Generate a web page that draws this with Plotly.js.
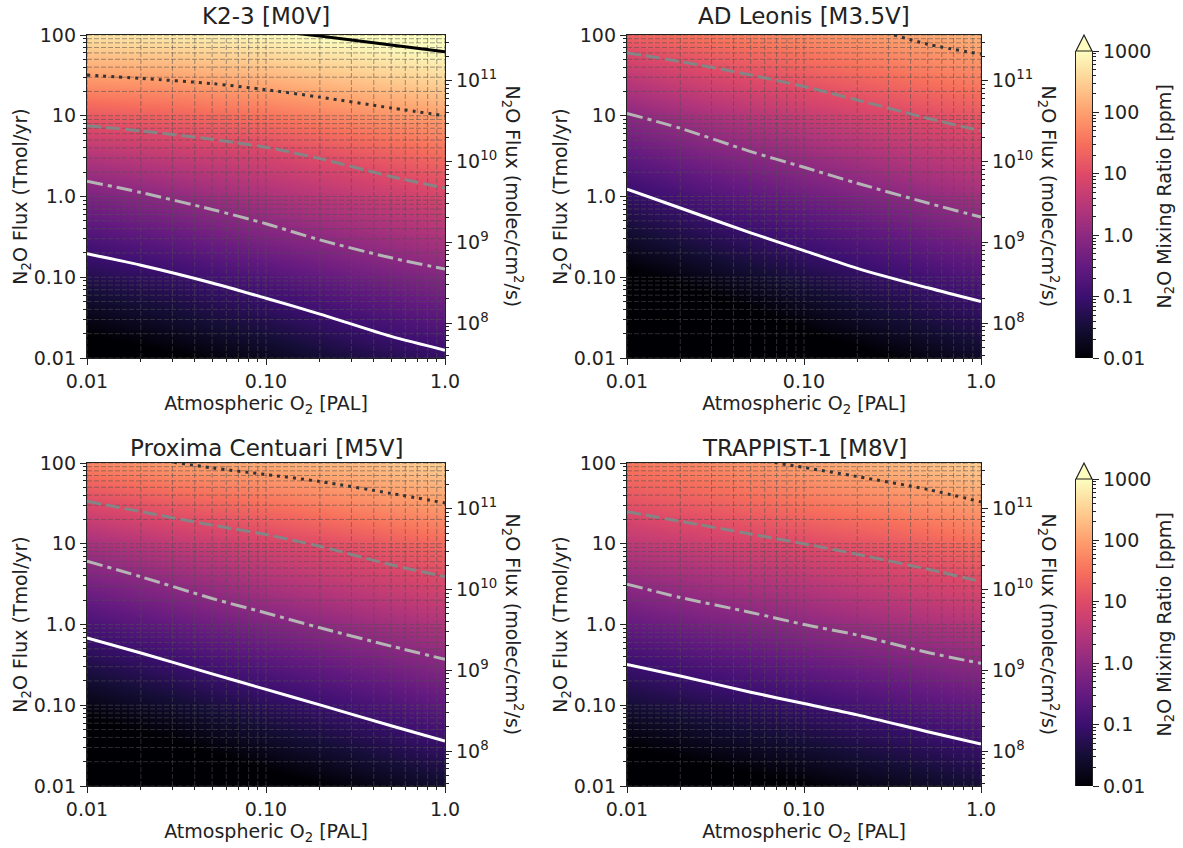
<!DOCTYPE html>
<html><head><meta charset="utf-8">
<script src="https://cdn.plot.ly/plotly-3.0.1.min.js"></script>
<style>html,body{margin:0;padding:0;background:#fff}</style></head>
<body><div id="chart" style="width:1183px;height:848px"></div>
<script>
// ---- data ----
const starNames = ["K2-3 [M0V]", "AD Leonis [M3.5V]", "Proxima Centuari [M5V]", "TRAPPIST-1 [M8V]"];
// heat-map knots (cell edges sit half way between knots in log space)
const o2Edges = [0.00562, 0.0178, 0.0562, 0.178, 0.562, 1.78];
const fluxEdges = [0.00562, 0.0178, 0.0562, 0.178, 0.562, 1.78, 5.62, 17.8, 56.2, 178];
// log10(N2O ppm): one row per flux knot (0.01, 0.03, 0.1 ... 100), one column per O2 knot (0.01, 0.03, 0.1, 0.3, 1)
const k23Log = [
 [-2.30,-2.05,-1.75,-1.40,-1.10],
 [-1.80,-1.55,-1.26,-0.90,-0.60],
 [-1.30,-1.05,-0.72,-0.38,-0.10],
 [-0.77,-0.50,-0.17, 0.13, 0.40],
 [-0.21, 0.05, 0.35, 0.62, 0.90],
 [ 0.45, 0.66, 0.87, 1.15, 1.45],
 [ 1.20, 1.33, 1.53, 1.80, 2.00],
 [ 2.00, 2.07, 2.24, 2.44, 2.65],
 [ 2.70, 2.80, 2.95, 3.10, 3.25]];
const adLeoLog = [
 [-3.10,-2.75,-2.35,-2.00,-1.65],
 [-2.60,-2.25,-1.85,-1.50,-1.20],
 [-2.10,-1.75,-1.37,-1.03,-0.73],
 [-1.60,-1.23,-0.87,-0.55,-0.23],
 [-1.10,-0.72,-0.38,-0.06, 0.25],
 [-0.56,-0.20, 0.13, 0.44, 0.71],
 [-0.03, 0.36, 0.67, 0.95, 1.18],
 [ 0.60, 0.95, 1.23, 1.48, 1.71],
 [ 1.30, 1.60, 1.80, 2.02, 2.22]];
const proximaLog = [
 [-2.80,-2.50,-2.20,-1.90,-1.60],
 [-2.30,-2.05,-1.70,-1.40,-1.07],
 [-1.83,-1.55,-1.20,-0.89,-0.57],
 [-1.35,-1.02,-0.69,-0.38,-0.07],
 [-0.82,-0.50,-0.18, 0.13, 0.42],
 [-0.28, 0.03, 0.37, 0.66, 0.92],
 [ 0.29, 0.61, 0.88, 1.13, 1.42],
 [ 0.97, 1.25, 1.51, 1.76, 2.00],
 [ 1.70, 2.00, 2.15, 2.30, 2.50]];
const trappistLog = [
 [-2.50,-2.25,-2.02,-1.77,-1.52],
 [-2.00,-1.75,-1.52,-1.27,-1.02],
 [-1.50,-1.26,-1.02,-0.76,-0.52],
 [-1.01,-0.76,-0.50,-0.26,-0.02],
 [-0.50,-0.25, 0.00, 0.24, 0.48],
 [ 0.01, 0.27, 0.50, 0.75, 0.98],
 [ 0.56, 0.79, 1.00, 1.20, 1.48],
 [ 1.10, 1.30, 1.53, 1.74, 1.98],
 [ 1.57, 1.80, 2.05, 2.26, 2.48]];
// iso-abundance curves: flux (Tmol/yr) at each O2 knot
const o2Line = [0.01, 0.02, 0.05, 0.1, 0.2, 0.5, 1.0];
const k23_01 = [0.195, 0.141, 0.085, 0.055, 0.035, 0.0185, 0.0125];
const k23_1 = [1.55, 1.12, 0.69, 0.46, 0.29, 0.174, 0.126];
const k23_10 = [7.5, 6.5, 5.1, 4.07, 2.95, 1.77, 1.27];
const k23_100 = [32, 29, 25, 21, 17, 12.5, 10];
const k23_1000 = [170, 150, 130, 115, 97, 75, 62];
const adl_01 = [1.23, 0.72, 0.355, 0.214, 0.129, 0.074, 0.05];
const adl_1 = [10.7, 7.0, 3.6, 2.3, 1.46, 0.83, 0.555];
const adl_10 = [60, 47, 32, 23, 15.7, 9.3, 6.5];
const adl_100 = [400, 320, 240, 200, 135, 77, 58];
const prx_01 = [0.684, 0.443, 0.245, 0.157, 0.101, 0.0557, 0.036];
const prx_1 = [6.1, 3.9, 2.1, 1.39, 0.91, 0.54, 0.37];
const prx_10 = [33.6, 25, 17, 13, 9.3, 5.5, 3.9];
const prx_100 = [150, 118, 87, 72, 59, 42, 32];
const trp_01 = [0.32, 0.23, 0.145, 0.105, 0.076, 0.047, 0.033];
const trp_1 = [3.16, 2.16, 1.41, 1.0, 0.74, 0.45, 0.33];
const trp_10 = [25, 19, 13.2, 10, 7.4, 4.85, 3.4];
const trp_100 = [280, 200, 115, 88, 68, 47, 33];
const gridO2 = [0.01,0.02,0.03,0.04,0.05,0.06,0.07,0.08,0.09,0.1,0.2,0.3,0.4,0.5,0.6,0.7,0.8,0.9,1];
const gridFlux = [0.01,0.02,0.03,0.04,0.05,0.06,0.07,0.08,0.09,0.1,0.2,0.3,0.4,0.5,0.6,0.7,0.8,0.9,1,2,3,4,5,6,7,8,9,10,20,30,40,50,60,70,80,90,100];
const o2TickVals = [0.01, 0.1, 1];
const o2TickText = ["0.01", "0.10", "1.0"];
const fluxTickVals = [0.01, 0.1, 1, 10, 100];
const fluxTickText = ["0.01", "0.10", "1.0", "10", "100"];
const molecRange = [7.567, 11.567];
const molecTickVals = [1e8, 1e9, 1e10, 1e11];
const molecTickText = ["10<sup>8</sup>", "10<sup>9</sup>", "10<sup>10</sup>", "10<sup>11</sup>"];
const cbarEdges = [0.00316, 0.0316, 0.316, 3.16, 31.6, 316, 3162];
const cbarLog = [-2, -1, 0, 1, 2, 3];
const cbarTickVals = [0.01, 0.1, 1, 10, 100, 1000];
const cbarTickText = ["0.01", "0.1", "1.0", "10", "100", "1000"];
const magma = [[0,"#000004"],[0.1,"#140e36"],[0.2,"#3b0f70"],[0.3,"#641a80"],[0.4,"#8c2981"],[0.5,"#b73779"],[0.6,"#de4968"],[0.7,"#f7705c"],[0.8,"#fe9f6d"],[0.9,"#fecf92"],[1,"#fcfdbf"]];

// ---- layout in pixels ----
const W = 1183, H = 848;
const px = (a,b)=>[a/W,b/W];
const py = (top,bot)=>[1-bot/H,1-top/H];
const cols = [[87,445],[627,981]];
const rows = [[35,358],[463,786]];
const titleGap = [4, 0];
const FONT = "DejaVu Sans, sans-serif";
const TXT = "#222";
const grid = {color:"rgba(80,80,80,0.55)", width:1, dash:"5px,2px"};
const styles = {
  w:{color:"#ffffff",width:3,dash:"solid"},
  dd:{color:"#b5b5b5",width:3,dash:"16px,5px,4px,5px"},
  d:{color:"#858585",width:3,dash:"14px,5px"},
  o:{color:"#333333",width:3,dash:"3px,5px"},
  k:{color:"#000000",width:3,dash:"solid"}
};
const panels = [
 {z:k23Log, lines:[[k23_01,"w"],[k23_1,"dd"],[k23_10,"d"],[k23_100,"o"],[k23_1000,"k"]]},
 {z:adLeoLog, lines:[[adl_01,"w"],[adl_1,"dd"],[adl_10,"d"],[adl_100,"o"]]},
 {z:proximaLog, lines:[[prx_01,"w"],[prx_1,"dd"],[prx_10,"d"],[prx_100,"o"]]},
 {z:trappistLog, lines:[[trp_01,"w"],[trp_1,"dd"],[trp_10,"d"],[trp_100,"o"]]}
];
const traces = [];
const layout = {width:W,height:H,margin:{l:0,r:0,t:0,b:0},paper_bgcolor:"#fff",plot_bgcolor:"#fff",
  showlegend:false,font:{family:FONT,color:TXT,size:16},annotations:[],shapes:[]};
const TICKSIZE = 19, LABELSIZE = 19;
const labelFont = {family:FONT,size:LABELSIZE,color:TXT};
const tickBase = {ticks:"outside",ticklen:6,tickwidth:1,tickcolor:TXT,linecolor:"#222",linewidth:1.2,showline:true,
  showgrid:false,zeroline:false,tickfont:{family:FONT,size:TICKSIZE,color:TXT},layer:"above traces"};
const minor = {ticks:"outside",ticklen:3,tickwidth:1,tickcolor:TXT,showgrid:false,dtick:"D1"};

panels.forEach((p,i)=>{
  const n = i+1, c = cols[i%2], rowI = i<2?0:1, r = rows[rowI];
  const xn = n===1?"x":"x"+n, yn = n===1?"y":"y"+n;
  traces.push({type:"heatmap",x:o2Edges,y:fluxEdges,z:p.z,xaxis:xn,yaxis:yn,zsmooth:"best",zmin:-2,zmax:3,colorscale:magma,showscale:false,hoverinfo:"skip"});
  const vx=[],vy=[],hx=[],hy=[];
  gridO2.forEach(v=>{vx.push(v,v,null);vy.push(0.01,100,null);});
  gridFlux.forEach(v=>{hx.push(0.01,1,null);hy.push(v,v,null);});
  traces.push({type:"scatter",mode:"lines",x:vx,y:vy,xaxis:xn,yaxis:yn,line:grid,hoverinfo:"skip",connectgaps:false});
  traces.push({type:"scatter",mode:"lines",x:hx,y:hy,xaxis:xn,yaxis:yn,line:grid,hoverinfo:"skip",connectgaps:false});
  p.lines.forEach(l=>traces.push({type:"scatter",mode:"lines",x:o2Line,y:l[0],xaxis:xn,yaxis:yn,line:Object.assign({shape:"spline",smoothing:0.8},styles[l[1]]),hoverinfo:"skip"}));
  layout["xaxis"+n]=Object.assign({},tickBase,{type:"log",domain:px(c[0],c[1]),range:[-2,0],anchor:yn,tickmode:"array",tickvals:o2TickVals,ticktext:o2TickText,minor,
    mirror:true,title:{text:"Atmospheric O<sub>2</sub> [PAL]",font:labelFont,standoff:2}});
  layout["yaxis"+n]=Object.assign({},tickBase,{type:"log",domain:py(r[0],r[1]),range:[-2,2],anchor:xn,tickmode:"array",tickvals:fluxTickVals,ticktext:fluxTickText,minor,
    title:{text:"N<sub>2</sub>O Flux (Tmol/yr)",font:labelFont,standoff:0}});
  const rn = n+4, yr = "y"+rn;
  // right-hand axis in molec/cm2/s: carries its tick positions as an invisible line so the axis is drawn
  traces.push({type:"scatter",mode:"lines",x:[0.01,0.1,1,1],y:molecTickVals,xaxis:xn,yaxis:yr,line:{width:0},hoverinfo:"skip"});
  layout["yaxis"+rn]=Object.assign({},tickBase,{type:"log",overlaying:yn,side:"right",anchor:xn,range:molecRange,tickmode:"array",tickvals:molecTickVals,ticktext:molecTickText,minor});
  layout.annotations.push({xref:"paper",yref:"paper",x:(c[0]+c[1])/2/W,y:1-(r[0]-titleGap[rowI])/H,xanchor:"center",yanchor:"bottom",showarrow:false,text:starNames[i],font:{family:FONT,size:23,color:TXT}});
  layout.annotations.push({xref:"paper",yref:"paper",x:(c[1]+67)/W,y:1-(r[0]+r[1])/2/H,xanchor:"center",yanchor:"middle",showarrow:false,textangle:90,text:"N<sub>2</sub>O Flux (molec/cm<sup>2</sup>/s)",font:labelFont});
});
// colour bars
rows.forEach((r,k)=>{
  const xk = "x"+(5+k), yk = "y"+(9+k);
  const top = r[0]+16, bot = r[1];
  traces.push({type:"heatmap",x:[-0.5,0.5,1.5],y:cbarEdges,z:cbarLog.map(v=>[v,v]),xaxis:xk,yaxis:yk,zsmooth:"best",zmin:-2,zmax:3,colorscale:magma,showscale:false,hoverinfo:"skip"});
  layout["xaxis"+(5+k)]={domain:px(1076,1092),range:[0,1],anchor:yk,visible:false,showgrid:false,zeroline:false};
  layout["yaxis"+(9+k)]=Object.assign({},tickBase,{type:"log",side:"right",domain:py(top,bot),range:[-2,3],anchor:xk,tickmode:"array",tickvals:cbarTickVals,ticktext:cbarTickText,minor,mirror:true});
  layout.annotations.push({xref:"paper",yref:"paper",x:1165/W,y:1-(r[0]+r[1])/2/H,xanchor:"center",yanchor:"middle",showarrow:false,textangle:-90,text:"N<sub>2</sub>O Mixing Ratio [ppm]",font:labelFont});
  layout.shapes.push({type:"path",xref:"paper",yref:"paper",layer:"above",
    path:`M ${1076/W} ${1-top/H} L ${1084/W} ${1-r[0]/H} L ${1092/W} ${1-top/H} Z`,fillcolor:"#fcfdbf",line:{color:"#222",width:1.2}});
});
Plotly.newPlot("chart",traces,layout,{displayModeBar:false,staticPlot:true});
</script></body></html>
